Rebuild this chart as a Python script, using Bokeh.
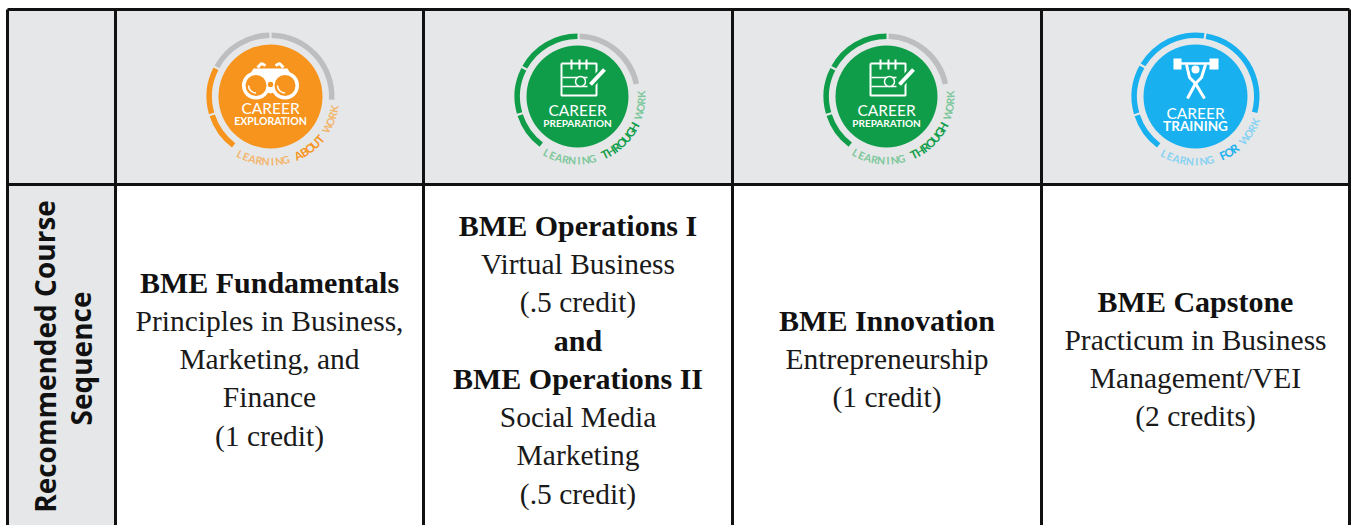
import math
from bokeh.plotting import figure
from bokeh.embed import file_html
from bokeh.resources import INLINE
from bokeh.core.properties import value
from bokeh.models import Range1d

W, H = 1351, 525
COL_EDGES = [7, 115, 423, 732, 1041, 1349]
ROW_EDGES = [9, 184, 526]
HEADER_FILL = "#e6e7e8"
LINE_STEP = 38.3

row_title = ["Recommended Course", "Sequence"]
col1 = [("BME Fundamentals", True), ("Principles in Business,", False), ("Marketing, and", False), ("Finance", False), ("(1 credit)", False)]
col2 = [("BME Operations I", True), ("Virtual Business", False), ("(.5 credit)", False), ("and", True), ("BME Operations II", True), ("Social Media", False), ("Marketing", False), ("(.5 credit)", False)]
col3 = [("BME Innovation", True), ("Entrepreneurship", False), ("(1 credit)", False)]
col4 = [("BME Capstone", True), ("Practicum in Business", False), ("Management/VEI", False), ("(2 credits)", False)]
columns = [col1, col2, col3, col4]
tops = [282, 225, 320, 301]

ORANGE, GREEN, BLUE, GREY = "#f7941d", "#0f9d4a", "#18b0ee", "#bcbec0"
logos = [
    dict(cx=270, cy=96, r=52, col=ORANGE, light="#f3b56c", t=("CAREER", "EXPLORATION"), dy=(11, 24), sz=(15.5, 10.5),
         arc=("LEARNING ", "ABOUT", " WORK"), span=(239, 352), segs=[(233, 198, ORANGE), (196, 153, ORANGE), (151, 91, GREY), (89, -3, GREY)]),
    dict(cx=577, cy=96, r=51, col=GREEN, light="#7cc79b", t=("CAREER", "PREPARATION"), dy=(13, 26), sz=(15.5, 10),
         arc=("LEARNING ", "THROUGH", " WORK"), span=(238, 365), segs=[(233, 198, GREEN), (196, 153, GREEN), (151, 90, GREEN), (88, 12, GREY)]),
    dict(cx=886, cy=96, r=51, col=GREEN, light="#7cc79b", t=("CAREER", "PREPARATION"), dy=(13, 26), sz=(15.5, 10),
         arc=("LEARNING ", "THROUGH", " WORK"), span=(238, 365), segs=[(233, 198, GREEN), (196, 153, GREEN), (151, 90, GREEN), (88, 12, GREY)]),
    dict(cx=1195, cy=96, r=52, col=BLUE, light="#86d2f3", t=("CAREER", "TRAINING"), dy=(16, 29), sz=(15.5, 13.5),
         arc=("LEARNING ", "FOR", " WORK"), span=(238, 340), segs=[(233, 198, BLUE), (196, 151, BLUE), (149, 82, BLUE), (80, -15, BLUE)]),
]

p = figure(width=W, height=H, x_range=Range1d(0, W), y_range=Range1d(H, 0), output_backend="svg", toolbar_location=None, min_border=0, outline_line_color=None)
p.axis.visible = False
p.grid.visible = False
p.styles = {"position": "absolute", "left": "0px", "top": "0px"}

# table
p.quad(left=COL_EDGES[:-1], right=COL_EDGES[1:], top=[ROW_EDGES[0]] * 5, bottom=[ROW_EDGES[1]] * 5, fill_color=HEADER_FILL, line_color=None)
p.quad(left=[COL_EDGES[0]], right=[COL_EDGES[1]], top=[ROW_EDGES[1]], bottom=[ROW_EDGES[2]], fill_color=HEADER_FILL, line_color=None)
p.segment(x0=COL_EDGES, y0=[ROW_EDGES[0]] * 6, x1=COL_EDGES, y1=[ROW_EDGES[2]] * 6, line_color="#111111", line_width=3)
p.segment(x0=[COL_EDGES[0]] * 2, y0=ROW_EDGES[:2], x1=[COL_EDGES[-1]] * 2, y1=ROW_EDGES[:2], line_color="#111111", line_width=3)

# rotated row title
p.text(x=[44, 80], y=[356, 358], text=row_title, angle=[math.pi / 2] * 2, text_font=value("Open Sans"), text_font_style="bold", text_font_size="28px", text_align="center", text_baseline="middle", text_color="#111111")

# body text
serif = value("Liberation Serif")
for i, col in enumerate(columns):
    cx = (COL_EDGES[i + 1] + COL_EDGES[i + 2]) / 2
    ys = [tops[i] + k * LINE_STEP for k in range(len(col))]
    norm = [k for k, c in enumerate(col) if not c[1]]
    bold = [k for k, c in enumerate(col) if c[1]]
    p.text(x=[cx] * len(norm), y=[ys[k] for k in norm], text=[col[k][0] for k in norm], text_font=serif, text_font_size="29.5px", text_align="center", text_baseline="middle", text_color="#1a1a1a")
    p.text(x=[cx] * len(bold), y=[ys[k] for k in bold], text=[col[k][0] for k in bold], text_font=serif, text_font_style="bold", text_font_size="30px", text_align="center", text_baseline="middle", text_color="#111111")


def arc_text(l):
    chars = []
    for j, part in enumerate(l["arc"]):
        chars += [(ch, j == 1) for ch in part]
    n = len(chars)
    start, end = l["span"]
    R = l["r"] + 13
    for k, (ch, b) in enumerate(chars):
        a = math.radians(start + (end - start) * (k + 0.5) / n)
        x = l["cx"] + R * math.cos(a)
        y = l["cy"] - R * math.sin(a)
        p.text(x=[x], y=[y], text=[ch], angle=[a - 1.5 * math.pi], text_font=value("Lato"), text_font_style="bold",
               text_font_size="11.5px" if b else "10.5px", text_align="center", text_baseline="middle", text_color=l["col"] if b else l["light"])


for idx, l in enumerate(logos):
    cx, cy, r, col = l["cx"], l["cy"], l["r"], l["col"]
    p.circle(x=[cx], y=[cy], radius=r, fill_color=col, line_color=None)
    for s, e, c in l["segs"]:
        p.annular_wedge(x=[cx], y=[cy], inner_radius=r + 6.5, outer_radius=r + 12, start_angle=math.radians(e), end_angle=math.radians(s), direction="anticlock", fill_color=c, line_color=None)
    p.text(x=[cx], y=[cy + l["dy"][0]], text=[l["t"][0]], text_font=value("Lato"), text_font_size=f'{l["sz"][0]}px', text_align="center", text_baseline="middle", text_color="#ffffff")
    p.text(x=[cx], y=[cy + l["dy"][1]], text=[l["t"][1]], text_font=value("Lato"), text_font_style="bold", text_font_size=f'{l["sz"][1]}px', text_align="center", text_baseline="middle", text_color="#ffffff")
    arc_text(l)
    if idx == 0:
        p.patch(x=[cx - 27, cx - 17, cx - 9, cx + 9, cx + 17, cx + 27, cx, cx - 27], y=[cy - 11, cy - 28, cy - 28, cy - 28, cy - 28, cy - 11, cy - 3, cy - 11], fill_color="#ffffff", line_color=None)
        for dx in (-14.5, 14.5):
            p.circle(x=[cx + dx], y=[cy - 11], radius=14, fill_color="#ffffff", line_color=None)
            p.circle(x=[cx + dx], y=[cy - 11], radius=10.5, fill_color=col, line_color=None)
            p.arc(x=[cx + dx], y=[cy - 11], radius=7.5, start_angle=math.radians(180), end_angle=math.radians(270), direction="anticlock", line_color="#ffffff", line_width=1.5)
        p.circle(x=[cx], y=[cy - 12], radius=2.7, fill_color=col, line_color=None)
        p.multi_line(xs=[[cx - 13, cx - 9, cx - 5], [cx + 5, cx + 9, cx + 13]], ys=[[cy - 29, cy - 33, cy - 31], [cy - 31, cy - 33, cy - 29]], line_color="#ffffff", line_width=3)
    elif idx in (1, 2):
        p.multi_line(xs=[[cx - 16, cx - 16, cx + 19, cx + 19, cx - 16]], ys=[[cy - 33, cy - 1, cy - 1, cy - 33, cy - 33]], line_color="#ffffff", line_width=2)
        p.segment(x0=[cx - 6, cx + 2, cx + 9], y0=[cy - 37] * 3, x1=[cx - 6, cx + 2, cx + 9], y1=[cy - 27] * 3, line_color="#ffffff", line_width=2)
        p.segment(x0=[cx - 15, cx - 15], y0=[cy - 19, cy - 10], x1=[cx + 10, cx + 10], y1=[cy - 19, cy - 10], line_color="#ffffff", line_width=1.5)
        p.circle(x=[cx + 3], y=[cy - 15], radius=5, fill_color=col, line_color="#ffffff", line_width=1.5)
        p.segment(x0=[cx + 13], y0=[cy - 12], x1=[cx + 27], y1=[cy - 27], line_color=col, line_width=8)
        p.segment(x0=[cx + 13], y0=[cy - 12], x1=[cx + 27], y1=[cy - 27], line_color="#ffffff", line_width=4)
    else:
        p.segment(x0=[cx - 18], y0=[cy - 33], x1=[cx + 18], y1=[cy - 33], line_color="#ffffff", line_width=2.5)
        p.quad(left=[cx - 22, cx + 14], right=[cx - 14, cx + 23], top=[cy - 38, cy - 38], bottom=[cy - 27, cy - 27], fill_color="#ffffff", line_color=None)
        p.circle(x=[cx], y=[cy - 27], radius=4, fill_color="#ffffff", line_color=None)
        p.multi_line(xs=[[cx - 9, cx - 6, cx], [cx + 10, cx + 6, cx], [cx, cx - 8], [cx, cx + 9]],
                     ys=[[cy - 32, cy - 19, cy - 13], [cy - 32, cy - 19, cy - 13], [cy - 13, cy + 2], [cy - 13, cy + 2]], line_color="#ffffff", line_width=3)

open("out.html", "w").write(file_html(p, INLINE))
